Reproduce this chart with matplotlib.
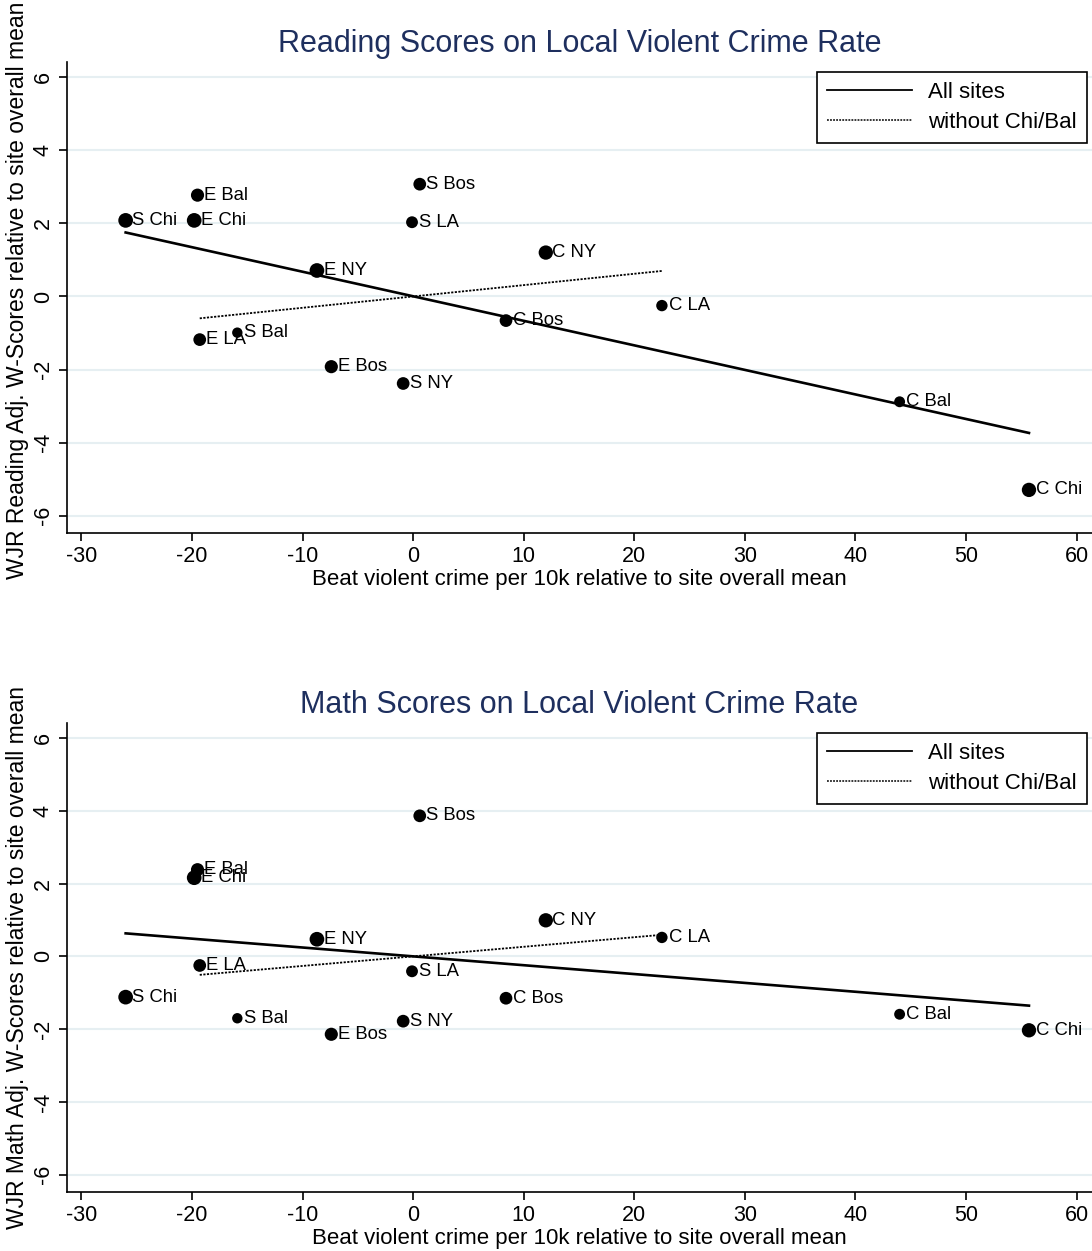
import numpy as np
import matplotlib
matplotlib.use("Agg")
import matplotlib.pyplot as plt
from matplotlib.lines import Line2D

plt.rcParams['font.family'] = ['Liberation Sans', 'DejaVu Sans']
plt.rcParams['axes.unicode_minus'] = False

# site labels and beat violent crime (relative to site mean)
sites = ['S Chi', 'E Chi', 'E Bal', 'S Bos', 'S LA', 'C NY', 'E NY', 'C LA',
         'C Bos', 'E LA', 'S Bal', 'E Bos', 'S NY', 'C Bal', 'C Chi']
crime = [-26.0, -19.8, -19.5, 0.6, -0.1, 12.0, -8.7, 22.5,
         8.4, -19.3, -15.9, -7.4, -0.9, 44.0, 55.7]
# relative site weights (marker area)
weight = [1.0, 1.0, 0.8, 0.75, 0.65, 0.95, 1.0, 0.6,
          0.75, 0.75, 0.5, 0.8, 0.75, 0.55, 0.95]

reading = [2.08, 2.08, 2.77, 3.07, 2.03, 1.20, 0.71, -0.25,
           -0.66, -1.18, -0.99, -1.92, -2.38, -2.88, -5.29]
math_sc = [-1.12, 2.16, 2.38, 3.86, -0.41, 0.99, 0.47, 0.52,
           -1.15, -0.25, -1.70, -2.14, -1.78, -1.59, -2.03]

# fitted lines (slope, intercept)
read_fit_all = (-0.0671, 0.005)
read_fit_sub = (0.0310, 0.0)
math_fit_all = (-0.0243, 0.0)
math_fit_sub = (0.0263, 0.0)

excluded = ['Chi', 'Bal']

navy = '#1e2f5e'
grid_col = '#e6eff2'

fig = plt.figure(figsize=(10.92, 12.51), dpi=100)


def panel(ax, yvals, fit_all, fit_sub, title, ylabel, ylab_y):
    x = np.array(crime)
    y = np.array(yvals)
    w = np.array(weight)
    ax.scatter(x, y, s=112 * w, color='black', zorder=3, linewidths=0)
    for xi, yi, lab in zip(x, y, sites):
        ax.annotate(lab, (xi, yi), xytext=(4.8, 0), textcoords='offset points',
                    va='center', ha='left', fontsize=13.3, zorder=4)

    xa = np.array([x.min(), x.max()])
    ax.plot(xa, fit_all[0] * xa + fit_all[1], color='black', lw=1.9, zorder=2)

    keep = np.array([s.split()[1] not in excluded for s in sites])
    xs = np.array([x[keep].min(), x[keep].max()])
    ax.plot(xs, fit_sub[0] * xs + fit_sub[1], color='black', lw=1.3,
            linestyle=(0, (1.2, 0.8)), zorder=2)

    ax.set_xlim(-31.3, 61.4)
    ax.set_ylim(-6.47, 6.41)
    ax.set_xticks(range(-30, 61, 10))
    ax.set_yticks(range(-6, 7, 2))
    ax.yaxis.grid(True, color=grid_col, lw=1.5)
    ax.set_axisbelow(True)
    for sp in ['top', 'right']:
        ax.spines[sp].set_visible(False)
    for sp in ['left', 'bottom']:
        ax.spines[sp].set_linewidth(1.2)
    ax.tick_params(direction='out', length=5.5, width=1.2, labelsize=15.5, pad=4)
    plt.setp(ax.get_yticklabels(), rotation=90, va='center')

    ax.set_title(title, color=navy, fontsize=22, pad=7)
    ax.set_xlabel('Beat violent crime per 10k relative to site overall mean',
                  fontsize=16, labelpad=1)
    ax.set_ylabel(ylabel, fontsize=16.5)
    ax.yaxis.set_label_coords(-0.037, ylab_y)

    handles = [Line2D([], [], color='black', lw=1.3),
               Line2D([], [], color='black', lw=1.1, linestyle=(0, (1.2, 0.8)))]
    leg = ax.legend(handles, ['All sites', 'without Chi/Bal'], loc='upper right',
                    bbox_to_anchor=(0.995, 0.979), borderaxespad=0, fontsize=16,
                    handlelength=3.8, fancybox=False, framealpha=1,
                    edgecolor='black', borderpad=0.45, labelspacing=0.42,
                    handletextpad=0.75)
    leg.get_frame().set_linewidth(1.2)


ax1 = fig.add_axes([0.0614, 0.5739, 0.9386, 0.3765])
panel(ax1, reading, read_fit_all, read_fit_sub,
      'Reading Scores on Local Violent Crime Rate',
      'WJR Reading Adj. W-Scores relative to site overall mean', 0.515)

ax2 = fig.add_axes([0.0614, 0.0472, 0.9386, 0.3749])
panel(ax2, math_sc, math_fit_all, math_fit_sub,
      'Math Scores on Local Violent Crime Rate',
      'WJR Math Adj. W-Scores relative to site overall mean', 0.5)

fig.savefig('out.png', dpi=100)
